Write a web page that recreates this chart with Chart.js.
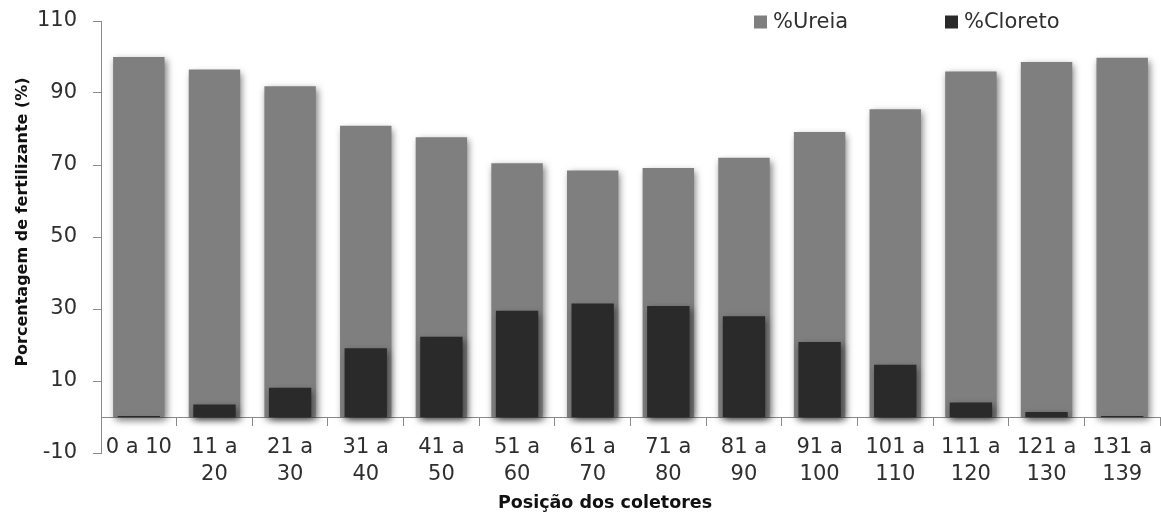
<!DOCTYPE html>
<html lang="pt">
<head>
<meta charset="utf-8">
<title>Porcentagem de fertilizante por posição dos coletores</title>
<script src="https://cdn.jsdelivr.net/npm/chart.js@4/dist/chart.umd.min.js"></script>
<style>
  html, body { margin: 0; padding: 0; background: #ffffff; }
  #wrap { position: relative; width: 1161px; height: 516px; }
</style>
</head>
<body>
<div id="wrap"><canvas id="chart"></canvas></div>
<script>
// Faixas de posição dos coletores (eixo x)
const categories = [
  "0 a 10", ["11 a", "20"], ["21 a", "30"], ["31 a", "40"], ["41 a", "50"],
  ["51 a", "60"], ["61 a", "70"], ["71 a", "80"], ["81 a", "90"], ["91 a", "100"],
  ["101 a", "110"], ["111 a", "120"], ["121 a", "130"], ["131 a", "139"]
];

// Porcentagem de cada fertilizante recolhida em cada faixa
const ureia   = [100, 96.5, 91.9, 80.9, 77.7, 70.5, 68.5, 69.2, 72.0, 79.2, 85.5, 96.0, 98.6, 99.8];
const cloreto = [0.3, 3.5, 8.1, 19.1, 22.3, 29.5, 31.5, 30.8, 28.0, 20.8, 14.5, 4.0, 1.4, 0.3];

const seriesNames = ["%Ureia", "%Cloreto"];
const yMin = -10, yMax = 110, yStep = 20;

const xTitle = "Posição dos coletores";
const yTitle = "Porcentagem de fertilizante (%)";

const FONT = "'DejaVu Sans', 'Liberation Sans', sans-serif";
const GRAY = "#7f7f7f";
const DARK = "#2a2a2a";
const AXIS = "#8a8a8a";
const TEXT = "#2f2f2f";

// Soft outer shadow behind the bars
const barShadow = {
  id: "barShadow",
  beforeDatasetsDraw(chart) {
    const ctx = chart.ctx;
    ctx.save();
    ctx.shadowColor = "rgba(0,0,0,0.5)";
    ctx.shadowBlur = 7;
    ctx.shadowOffsetX = 2;
    ctx.shadowOffsetY = 3;
  },
  afterDatasetsDraw(chart) {
    chart.ctx.restore();
  }
};

// Legend row in the upper right, level with the top tick
const topLegend = {
  id: "topLegend",
  afterDraw(chart) {
    const ctx = chart.ctx;
    const xs = [754, 945];
    const yc = 22, box = 13;
    ctx.save();
    ctx.font = "21px " + FONT;
    ctx.textBaseline = "middle";
    ctx.textAlign = "left";
    chart.data.datasets.forEach((ds, i) => {
      ctx.fillStyle = ds.backgroundColor;
      ctx.fillRect(xs[i], yc - box / 2, box, box);
      ctx.fillStyle = TEXT;
      ctx.fillText(ds.label, xs[i] + box + 6, yc + 1);
    });
    ctx.restore();
  }
};

// Axis titles
const axisTitles = {
  id: "axisTitles",
  afterDraw(chart) {
    const ctx = chart.ctx;
    ctx.save();
    ctx.fillStyle = "#111111";
    ctx.textAlign = "center";
    ctx.textBaseline = "middle";
    ctx.font = "bold 17.5px " + FONT;
    ctx.fillText(xTitle, 605, 503);
    ctx.translate(23, 222);
    ctx.rotate(-Math.PI / 2);
    ctx.font = "bold 16px " + FONT;
    ctx.fillText(yTitle, 0, 0);
    ctx.restore();
  }
};

new Chart(document.getElementById("chart"), {
  type: "bar",
  data: {
    labels: categories,
    datasets: [
      {
        label: seriesNames[0],
        data: ureia,
        backgroundColor: GRAY,
        barPercentage: 0.68,
        categoryPercentage: 1,
        order: 2
      },
      {
        label: seriesNames[1],
        data: cloreto,
        backgroundColor: DARK,
        barPercentage: 0.56,
        categoryPercentage: 1,
        order: 1
      }
    ]
  },
  options: {
    responsive: true,
    maintainAspectRatio: false,
    animation: false,
    grouped: false,
    layout: { padding: { top: 21, right: 0, bottom: 63, left: 0 } },
    plugins: {
      legend: { display: false },
      tooltip: { enabled: false },
      title: { display: false }
    },
    scales: {
      x: {
        position: { y: 0 },
        offset: true,
        grid: {
          offset: true,
          drawOnChartArea: false,
          drawTicks: true,
          tickLength: 8,
          color: AXIS
        },
        border: { display: true, color: AXIS, width: 1 },
        ticks: {
          color: TEXT,
          padding: 9,
          maxRotation: 0,
          autoSkip: false,
          font: { family: FONT, size: 21, lineHeight: 1.29 }
        }
      },
      y: {
        min: yMin,
        max: yMax,
        afterFit(scale) {
          scale.width = 101;
          // the outer layout padding already leaves room for the end labels
          scale.paddingTop = 0;
          scale.paddingBottom = 0;
        },
        grid: {
          drawOnChartArea: false,
          drawTicks: true,
          tickLength: 8,
          color: AXIS
        },
        border: { display: true, color: AXIS, width: 1 },
        ticks: {
          stepSize: yStep,
          color: TEXT,
          padding: 16,
          font: { family: FONT, size: 21 }
        }
      }
    }
  },
  plugins: [barShadow, topLegend, axisTitles]
});
</script>
</body>
</html>
